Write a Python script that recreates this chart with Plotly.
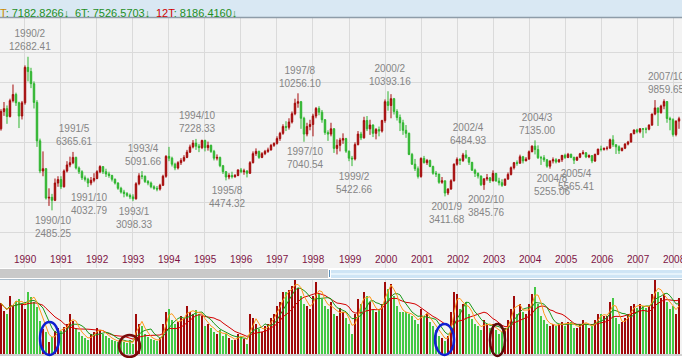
import plotly.graph_objects as go
import pandas as pd

# ---------------- data (monthly, 1989/5 .. 2008/3) ----------------
first_year, first_month = 1989, 5

opens = [
    7900, 9050, 9240, 8720, 9770, 10180, 9630, 8750,
    9624, 11980, 11700, 10900, 9650, 7100, 5100, 5250, 3300, 3350, 3150, 4300,
    4530, 4050, 5100, 5500, 5650, 6000, 5300, 5050, 4650, 4550, 4300, 4480,
    4600, 5050, 5391, 5050, 4900, 4800, 4550, 4300, 3950, 3700, 3600, 3480,
    3377, 3250, 4250, 4780, 4750, 4400, 4300, 4050, 3950, 3900, 4150, 4750,
    6070, 5950, 5550, 5300, 5650, 5800, 6000, 6350, 6700, 6950, 6750, 6650,
    7124, 6650, 6800, 6400, 5950, 6000, 5450, 5050, 4700, 4800, 4720, 4800,
    5173, 5050, 5100, 4950, 5650, 6250, 6400, 6000, 6250, 6400, 6500, 6800,
    6933, 7250, 7600, 8050, 8000, 8350, 8900, 9600, 9700, 8600, 7550, 8050,
    8187, 8750, 9250, 9000, 8500, 7650, 7550, 7900, 6600, 6800, 7150, 7250,
    6418, 5950, 5900, 6850, 7550, 7300, 8450, 7900, 8150, 7600, 7850, 7750,
    8448, 9700, 9450, 9900, 9050, 8650, 8300, 7800, 7600, 6200, 5550, 5250,
    4739, 5936, 5650, 5800, 5400, 4950, 4900, 4350, 4450, 3636, 3903, 4450,
    5551, 5872, 5800, 6167, 6000, 5675, 5153, 4941, 4764, 4191, 4579, 4642,
    4452, 4941, 4432, 4321, 4148, 4555, 4872, 5318, 5650, 5611, 6045, 5771,
    5890, 6375, 6750, 6522, 5978, 5977, 5839, 5420, 5765, 5845, 5706, 5844,
    6139, 5994, 6207, 6005, 5818, 6011, 6241, 6311, 6033, 6118, 5764, 6203,
    6548, 6532, 6605, 6613, 7171, 6846, 6704, 6455, 6611, 6883, 7021, 7567,
    7823, 7699, 7901, 7884, 7875, 8145, 8883, 9287, 8982, 9411, 9711, 8586,
    8506, 7521, 8412,
]
highs = [
    9200, 9680, 9450, 9900, 10840, 10300, 9700, 9750,
    12110, 12682.41, 11950, 11050, 9800, 7250, 6400, 5300, 3950, 3580, 4600, 4750,
    4750, 5200, 5750, 6050, 6365.61, 6050, 5400, 5150, 4800, 4650, 4700, 4950,
    5150, 5480, 5400, 5250, 5050, 4850, 4600, 4350, 4050, 3850, 3700, 3600,
    3550, 4350, 4950, 5091.66, 4800, 4500, 4400, 4150, 4100, 4250, 4850, 6150,
    6700, 6050, 5650, 5750, 5950, 6150, 6500, 6850, 7150, 7228.33, 6900, 7180,
    7180, 7050, 6850, 6500, 6200, 6050, 5500, 5100, 4950, 5050, 4900, 5200,
    5300, 5250, 5150, 5750, 6400, 6600, 6450, 6350, 6500, 6650, 6900, 7000,
    7400, 7700, 8200, 8400, 8600, 9050, 9900, 10256.10, 9750, 8700, 8300, 8500,
    8900, 9350, 9400, 9150, 8550, 7800, 8300, 7950, 7200, 7300, 7600, 7300,
    6450, 6100, 7000, 7750, 7700, 8700, 8750, 8500, 8200, 7950, 8050, 8500,
    9850, 10393.16, 10200, 9950, 9200, 8850, 8500, 8150, 7650, 6300, 5900, 5400,
    6000, 6100, 5900, 5850, 5450, 5100, 4900, 4700, 4450, 3950, 4550, 5600,
    6000, 5950, 6300, 6484.93, 6000, 5700, 5250, 5000, 4800, 4600, 4900, 4700,
    5141, 4950, 4650, 4550, 4600, 5000, 5400, 5700, 5800, 6182, 6100, 6020,
    6460, 6800, 7135.00, 6800, 6100, 6150, 5900, 5800, 6000, 5950, 5900, 6150,
    6250, 6300, 6250, 6050, 6050, 6300, 6480, 6350, 6200, 6150, 6250, 6580,
    6780, 6650, 6750, 7250, 7474, 6850, 6800, 6650, 6950, 7100, 7600, 7850,
    7900, 7950, 7950, 8000, 8200, 8900, 9807, 9300, 9500, 9859.65, 9700, 8700,
    8600, 8450, 8700,
]
lows = [
    7780, 8760, 8230, 8650, 9650, 9420, 7950, 8520,
    9500, 11050, 10600, 9250, 6700, 4950, 4750, 3200, 2780, 2485.25, 3100, 4050,
    3900, 4000, 5000, 5350, 5550, 5200, 4900, 4500, 4400, 4032.79, 4150, 4350,
    4550, 4950, 4900, 4700, 4650, 4400, 4200, 3850, 3600, 3350, 3380, 3230,
    3098.33, 3200, 4150, 4550, 4300, 4150, 3950, 3850, 3750, 3800, 4100, 4650,
    5750, 5400, 5150, 5200, 5500, 5700, 5950, 6300, 6600, 6500, 6350, 6550,
    6400, 6450, 6300, 5800, 5800, 5350, 4900, 4474.32, 4550, 4600, 4650, 4750,
    4950, 4850, 4672, 4900, 5600, 6100, 5900, 5950, 6150, 6300, 6450, 6700,
    6850, 7100, 7500, 7750, 7850, 8250, 8800, 9300, 7900, 7040.54, 7400, 7800,
    7400, 8600, 8800, 8300, 7500, 7100, 7400, 6300, 6200, 6400, 6900, 6300,
    5750, 5422.66, 5800, 6800, 7150, 7250, 7750, 7500, 7350, 7200, 7400, 7650,
    8300, 9100, 8600, 8850, 8450, 7750, 7500, 7300, 6150, 5500, 5100, 4600,
    4650, 5600, 5500, 5350, 4850, 4700, 4250, 4250, 3411.68, 3500, 3850, 4400,
    5450, 5500, 5700, 5900, 5500, 5100, 4700, 4600, 4100, 3845.76, 4450, 4300,
    4400, 4400, 4140, 4044, 4140, 4550, 4800, 5200, 5450, 5600, 5600, 5750,
    5850, 6350, 6200, 5900, 5500, 5700, 5316, 5255.06, 5600, 5600, 5650, 5700,
    5900, 5950, 5950, 5565.41, 5770, 5950, 6200, 5950, 5950, 5618, 5700, 6150,
    6400, 6450, 6470, 6600, 6700, 6230, 6232, 6400, 6550, 6800, 7000, 7550,
    7600, 7600, 7300, 7600, 7800, 8100, 8800, 8090, 8900, 9200, 8300, 7800,
    7384, 7400, 7900,
]
closes = [
    9050, 9240, 8720, 9770, 10180, 9630, 8750, 9624,
    11980, 11700, 10900, 9650, 7100, 5100, 5250, 3300, 3350, 3150, 4300, 4530,
    4050, 5100, 5500, 5650, 6000, 5300, 5050, 4650, 4550, 4300, 4480, 4600,
    5050, 5391, 5050, 4900, 4800, 4550, 4300, 3950, 3700, 3600, 3480, 3377,
    3250, 4250, 4780, 4750, 4400, 4300, 4050, 3950, 3900, 4150, 4750, 6070,
    5950, 5550, 5300, 5650, 5800, 6000, 6350, 6700, 6950, 6750, 6650, 7124,
    6650, 6800, 6400, 5950, 6000, 5450, 5050, 4700, 4800, 4720, 4800, 5173,
    5050, 5100, 4950, 5650, 6250, 6400, 6000, 6250, 6400, 6500, 6800, 6933,
    7250, 7600, 8050, 8000, 8350, 8900, 9600, 9700, 8600, 7550, 8050, 8187,
    8750, 9250, 9000, 8500, 7650, 7550, 7900, 6600, 6800, 7150, 7250, 6418,
    5950, 5900, 6850, 7550, 7300, 8450, 7900, 8150, 7600, 7850, 7750, 8448,
    9700, 9450, 9900, 9050, 8650, 8300, 7800, 7600, 6200, 5550, 5250, 4739,
    5936, 5650, 5800, 5400, 4950, 4900, 4350, 4450, 3636, 3903, 4450, 5551,
    5872, 5800, 6167, 6000, 5675, 5153, 4941, 4764, 4191, 4579, 4642, 4452,
    4941, 4432, 4321, 4148, 4555, 4872, 5318, 5650, 5611, 6045, 5771, 5890,
    6375, 6750, 6522, 5978, 5977, 5839, 5420, 5765, 5845, 5706, 5844, 6139,
    5994, 6207, 6005, 5818, 6011, 6241, 6311, 6033, 6118, 5764, 6203, 6548,
    6532, 6605, 6613, 7171, 6846, 6704, 6455, 6611, 6883, 7021, 7567, 7823,
    7699, 7901, 7884, 7875, 8145, 8883, 9287, 8982, 9411, 9711, 8586, 8506,
    7521, 8412, 8572,
]
# monthly turnover (100 million NT$)
volumes = [
    29100, 24500, 22800, 33100, 27400, 30200, 31400, 28500,
    25700, 35300, 32500, 29600, 26800, 18800, 14300, 12500, 6800, 9700, 13100, 14800,
    13100, 15400, 17100, 22800, 18800, 14800, 12500, 10300, 9100, 8000, 11400, 12500,
    14800, 13700, 11400, 10300, 9100, 8000, 7400, 6800, 8600, 6800, 6300, 8000,
    5700, 22800, 17100, 16000, 11400, 9700, 8600, 8000, 7400, 9100, 17100, 23900,
    25700, 19400, 17100, 18200, 21700, 20500, 27400, 23900, 22800, 25100, 22800, 21700,
    16000, 17100, 14800, 12500, 11400, 13700, 10300, 11400, 9100, 8000, 8000, 11400,
    10300, 8600, 5700, 22800, 20500, 17100, 14300, 12500, 16000, 17100, 20500, 22800,
    27400, 29600, 35300, 35300, 36500, 38800, 42700, 37600, 33100, 28500, 27400, 25700,
    33100, 41000, 34200, 31400, 27400, 25700, 29600, 22800, 21700, 26200, 23900, 20500,
    17100, 11400, 22800, 31400, 28500, 35300, 33100, 29600, 25100, 23900, 25700, 28500,
    41000, 37100, 39900, 33100, 27400, 23900, 23900, 23900, 22800, 21700, 19400, 17100,
    25700, 21700, 22800, 18200, 16000, 13700, 10300, 9100, 7400, 10300, 23900, 35300,
    34200, 25700, 28500, 29600, 22800, 20000, 17100, 16000, 13700, 19400, 17100, 14800,
    17100, 13700, 11400, 12500, 14800, 19400, 25700, 33100, 22800, 28500, 23900, 22800,
    28500, 34200, 38200, 28500, 21700, 19400, 17100, 16000, 17100, 16000, 17100, 18200,
    16000, 18200, 18200, 14800, 14800, 17100, 19400, 17100, 14800, 16000, 19400, 22800,
    22800, 21700, 21700, 29600, 31900, 20500, 17100, 18200, 20500, 22800, 27400, 28500,
    26200, 28500, 27400, 26200, 27400, 34200, 42700, 35300, 31900, 34200, 29600, 25700,
    27400, 22800, 31900,
]

# highlighted extremes (month, which price)
mark_months = ["1990/2", "1990/10", "1991/5", "1991/10", "1993/1", "1993/4",
               "1994/10", "1995/8", "1997/8", "1997/10", "1999/2", "2000/2",
               "2001/9", "2002/4", "2002/10", "2004/3", "2004/8", "2005/4", "2007/10"]
mark_kind = ["high", "low", "high", "low", "low", "high",
             "high", "low", "high", "low", "low", "high",
             "low", "high", "low", "high", "low", "low", "high"]

year_labels = [str(y) for y in range(1990, 2009)]

header_items = [("3T", "7182.8266"), ("6T", "7526.5703"), ("12T", "8186.4160")]

# ---------------- build ----------------
n = len(closes)
months = []
y, m = first_year, first_month
for _ in range(n):
    months.append(f"{y}/{m}")
    m += 1
    if m > 12:
        m = 1
        y += 1

RED = "#a50a0a"
GREEN = "#2fb52f"
VRED = "#a00a0a"
VGREEN = "#44c844"
colors = [VRED if c >= o else VGREEN for o, c in zip(opens, closes)]

vol = pd.Series(volumes, dtype=float)
ma3 = vol.rolling(3, min_periods=1).mean()
ma6 = vol.rolling(6, min_periods=1).mean()
ma12 = vol.rolling(12, min_periods=1).mean()

H = 358.0
W = 682.0
def py(px):
    return 1 - px / H

FONT = "Liberation Sans, Arial, sans-serif"

fig = go.Figure()
fig.add_trace(go.Candlestick(
    x=months, open=opens, high=highs, low=lows, close=closes,
    increasing=dict(line=dict(color=RED, width=1), fillcolor=RED),
    decreasing=dict(line=dict(color=GREEN, width=1), fillcolor=GREEN),
    whiskerwidth=0, xaxis="x", yaxis="y", showlegend=False, hoverinfo="skip"))
fig.add_trace(go.Bar(x=months, y=volumes, marker=dict(color=colors, line=dict(width=0)),
                     width=0.62, xaxis="x2", yaxis="y2", showlegend=False, hoverinfo="skip"))
for s, c in ((ma12, "#d40000"), (ma6, "#1a9a1a"), (ma3, "#ff9a1a")):
    fig.add_trace(go.Scatter(x=months, y=s, mode="lines", line=dict(color=c, width=1),
                             xaxis="x2", yaxis="y2", showlegend=False, hoverinfo="skip"))

jan_ticks = [f"{yy}/1" for yy in range(1990, 2009)]
xr = [-0.33, 227.0]
axis_common = dict(type="category", range=xr, tickvals=jan_ticks, showticklabels=False,
                   showgrid=True, gridcolor="#dadada", gridwidth=1, zeroline=False,
                   showline=False, ticks="", fixedrange=True)

PRICE_TOP, PRICE_BOT = 18, 268
VOL_TOP, VOL_BOT = 280, 354
fig.update_layout(
    width=682, height=358, margin=dict(l=0, r=0, t=0, b=0, pad=0),
    paper_bgcolor="#ffffff", plot_bgcolor="#f3f3f3",
    xaxis=dict(domain=[0, 1], anchor="y", rangeslider=dict(visible=False), **axis_common),
    yaxis=dict(domain=[py(PRICE_BOT), py(PRICE_TOP)], range=[-1342.4, 15257.6],
               tickvals=[1000, 3000, 5000, 7000, 9000, 11000, 13000], showticklabels=False,
               showgrid=True, gridcolor="#dadada", zeroline=False, ticks="", fixedrange=True),
    xaxis2=dict(domain=[0, 1], anchor="y2", matches="x", **axis_common),
    yaxis2=dict(domain=[py(VOL_BOT), py(VOL_TOP)], range=[0, 42200], showticklabels=False,
                showgrid=False, zeroline=False, ticks="", fixedrange=True),
    bargap=0, showlegend=False, hovermode=False,
)

ann = []
# extreme labels
for mm, kind in zip(mark_months, mark_kind):
    i = months.index(mm)
    val = highs[i] if kind == "high" else lows[i]
    ann.append(dict(x=mm, y=val, xref="x", yref="y", text=f"{mm}<br>{val:.2f}",
                    showarrow=False, xshift=2, yshift=16.5 if kind == "high" else -16.5,
                    yanchor="middle", xanchor="center",
                    font=dict(family=FONT, size=10, color="#858585")))
# year labels
for t, lab in zip(jan_ticks, year_labels):
    ann.append(dict(x=t, y=py(259), xref="x", yref="paper", text=lab, showarrow=False,
                    xshift=1, yanchor="middle", xanchor="center",
                    font=dict(family=FONT, size=10, color="#7d1445")))
# header
head_x = [-8, 73, 154]
head_col = ["#c98a00", "#1e8f1e", "#d00000"]
for (lab, val), hx, hc in zip(header_items, head_x, head_col):
    ann.append(dict(x=hx / W, y=py(13), xref="paper", yref="paper", showarrow=False,
                    xanchor="left", yanchor="middle",
                    text=f'<span style="color:{hc}">{lab}</span><span style="color:#1e8f1e">: {val}↓</span>',
                    font=dict(family=FONT, size=11)))
fig.update_layout(annotations=ann)

shapes = [
    # header band
    dict(type="rect", xref="paper", yref="paper", x0=0, x1=1, y0=py(17), y1=1,
         fillcolor="#d9e8f3", line=dict(width=0), layer="below"),
    dict(type="line", xref="paper", yref="paper", x0=0, x1=1, y0=py(17.5), y1=py(17.5),
         line=dict(color="#8e9ca8", width=1.5)),
    # scrollbar
    dict(type="rect", xref="paper", yref="paper", x0=0, x1=328 / W, y0=py(278), y1=py(269),
         fillcolor="#c9c9c9", line=dict(width=0)),
    dict(type="rect", xref="paper", yref="paper", x0=331 / W, x1=1, y0=py(278), y1=py(270),
         fillcolor="#cfe5f5", line=dict(width=0)),
    dict(type="line", xref="paper", yref="paper", x0=331 / W, x1=1, y0=py(274), y1=py(274),
         line=dict(color="#eef7fd", width=1.5)),
    dict(type="line", xref="paper", yref="paper", x0=329.5 / W, x1=329.5 / W, y0=py(277), y1=py(270),
         line=dict(color="#5b8fb8", width=1)),
    # volume panel borders
    dict(type="line", xref="paper", yref="paper", x0=0, x1=1, y0=py(279.5), y1=py(279.5),
         line=dict(color="#a9bccb", width=1)),
    dict(type="line", xref="paper", yref="paper", x0=0, x1=1, y0=py(355), y1=py(355),
         line=dict(color="#a0a0a0", width=1)),
    # hand-drawn ellipses
    dict(type="circle", xref="paper", yref="paper", x0=40 / W, x1=59 / W, y0=py(355), y1=py(322),
         line=dict(color="#1020d0", width=2.5)),
    dict(type="circle", xref="paper", yref="paper", x0=119 / W, x1=140 / W, y0=py(357), y1=py(335),
         line=dict(color="#7a0a0a", width=2.5)),
    dict(type="circle", xref="paper", yref="paper", x0=435 / W, x1=454 / W, y0=py(355), y1=py(324),
         line=dict(color="#1020d0", width=2.5)),
    dict(type="circle", xref="paper", yref="paper", x0=490 / W, x1=505 / W, y0=py(356), y1=py(324),
         line=dict(color="#5a0a0a", width=2.5)),
]
fig.update_layout(shapes=shapes)

fig.write_html("out.html", config={"displayModeBar": False, "staticPlot": True},
               post_script="document.body.style.margin='0';document.body.style.overflow='hidden';")
